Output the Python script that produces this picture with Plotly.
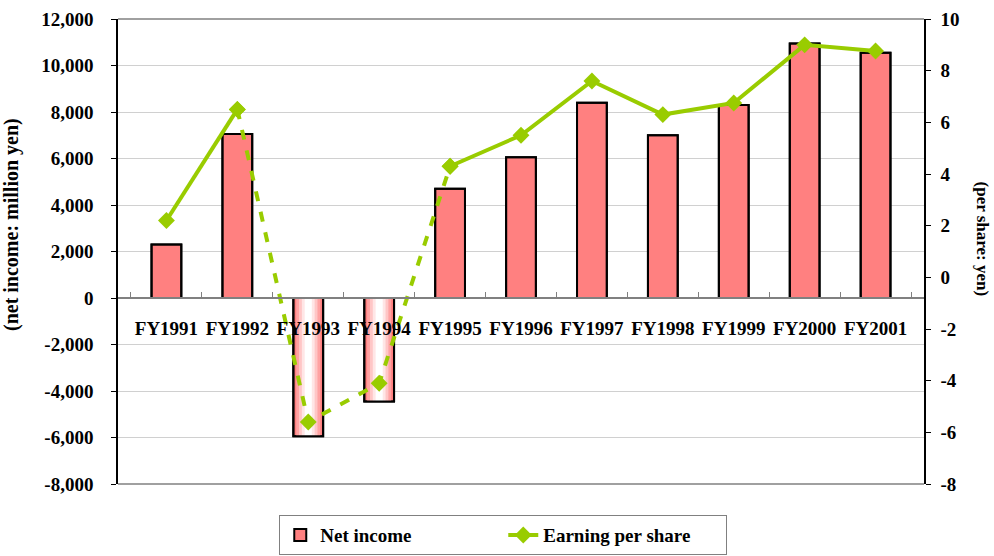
import plotly.graph_objects as go

# Fiscal years and reported figures
categories = ["FY1991", "FY1992", "FY1993", "FY1994", "FY1995", "FY1996",
              "FY1997", "FY1998", "FY1999", "FY2000", "FY2001"]
net_income = [2300, 7050, -5950, -4450, 4700, 6050, 8400, 7000, 8300, 10950, 10550]  # million yen
eps = [2.2, 6.5, -5.6, -4.1, 4.3, 5.5, 7.6, 6.3, 6.75, 9.0, 8.76]  # yen per share

# Axis ticks (labels use a plain hyphen for negatives)
income_ticks = [-8000, -6000, -4000, -2000, 0, 2000, 4000, 6000, 8000, 10000, 12000]
income_tick_labels = [f"{v:,}" for v in income_ticks]
eps_ticks = [-8, -6, -4, -2, 0, 2, 4, 6, 8, 10]
eps_tick_labels = [str(v) for v in eps_ticks]

# Years joined by a dashed segment of the EPS line (loss period)
dashed_years = ["FY1992", "FY1993", "FY1994", "FY1995"]

FONT = "Liberation Serif, Times New Roman, serif"
PINK = "#ff8080"
GREEN = "#99cc00"
BAR_W = 0.42

fig = go.Figure()

# Net income bars
fig.add_trace(go.Bar(
    x=categories, y=net_income, name="Net income", width=BAR_W,
    marker=dict(color=PINK, line=dict(color="black", width=2)),
    yaxis="y",
))

# Negative years get a pink-white-pink shaded fill built from nested bars
neg_vals = [v if v < 0 else None for v in net_income]
shades = [(0.34, "#ffa2a2"), (0.26, "#ffc6c6"), (0.18, "#ffe6e6"), (0.10, "#ffffff")]
for w, c in shades:
    fig.add_trace(go.Bar(
        x=categories, y=neg_vals, width=w, showlegend=False, hoverinfo="skip",
        marker=dict(color=c, line=dict(width=0)), yaxis="y",
    ))

# Outline on top of the shaded fills
fig.add_trace(go.Bar(
    x=categories, y=net_income, width=BAR_W, showlegend=False, hoverinfo="skip",
    marker=dict(color="rgba(0,0,0,0)", line=dict(color="black", width=2)),
    yaxis="y",
))

# EPS line: solid outside the loss period, dashed through it
solid_eps = [v if c not in dashed_years[1:-1] else None for c, v in zip(categories, eps)]
dash_x = [c for c in categories if c in dashed_years]
dash_y = [v for c, v in zip(categories, eps) if c in dashed_years]

fig.add_trace(go.Scatter(
    x=dash_x, y=dash_y, mode="lines+markers", showlegend=False, hoverinfo="skip",
    line=dict(color=GREEN, width=4, dash="10px,11px"),
    marker=dict(symbol="diamond", size=13, color=GREEN),
    yaxis="y2",
))
fig.add_trace(go.Scatter(
    x=categories, y=solid_eps, name="Earning per share", mode="lines+markers",
    connectgaps=False,
    line=dict(color=GREEN, width=4),
    marker=dict(symbol="diamond", size=13, color=GREEN),
    yaxis="y2",
))

tick_font = dict(family=FONT, size=19, color="black", weight="bold")

fig.update_layout(
    width=994, height=556,
    margin=dict(l=118, r=70, t=19, b=72, autoexpand=False),
    paper_bgcolor="white", plot_bgcolor="white",
    barmode="overlay",
    showlegend=True,
    font=dict(family=FONT, color="black"),
    xaxis=dict(
        type="category", anchor="free", position=0.4,
        showline=True, linecolor="#808080", linewidth=1.5,
        ticks="inside", tickson="boundaries", ticklen=5, tickcolor="#808080",
        showgrid=False, tickfont=tick_font, tickangle=0, ticklabelstandoff=13,
    ),
    yaxis=dict(
        range=[-8000, 12000], tickvals=income_ticks, ticktext=income_tick_labels,
        showline=True, linecolor="black", linewidth=1.5,
        ticks="outside", ticklen=5, tickcolor="black",
        showgrid=True, gridcolor="#d0d0d0", gridwidth=1,
        zeroline=False, tickfont=tick_font, ticklabelstandoff=14,
    ),
    yaxis2=dict(
        range=[-8, 10], tickvals=eps_ticks, ticktext=eps_tick_labels,
        overlaying="y", side="right",
        showline=True, linecolor="black", linewidth=1.5,
        ticks="outside", ticklen=5, tickcolor="black",
        showgrid=False, zeroline=False, tickfont=tick_font, ticklabelstandoff=6,
    ),
    legend=dict(
        orientation="h", x=0.478, xanchor="center", y=-0.11, yanchor="middle",
        bordercolor="#808080", borderwidth=1, bgcolor="white",
        font=dict(family=FONT, size=19, color="black", weight="bold"),
        traceorder="normal", entrywidth=178, entrywidthmode="pixels",
    ),
    shapes=[
        dict(type="line", xref="paper", yref="paper", x0=0, x1=1, y0=1, y1=1,
             line=dict(color="#808080", width=1.5)),
        dict(type="line", xref="paper", yref="paper", x0=0, x1=1, y0=0, y1=0,
             line=dict(color="#808080", width=1.5)),
    ],
    annotations=[
        dict(text="(net income: million yen)", xref="paper", yref="paper",
             x=-0.1315, y=0.557, xanchor="center", yanchor="middle",
             textangle=-90, showarrow=False,
             font=dict(family=FONT, size=20, color="black", weight="bold")),
        dict(text="(per share: yen)", xref="paper", yref="paper",
             x=1.073, y=0.526, xanchor="center", yanchor="middle",
             textangle=90, showarrow=False,
             font=dict(family=FONT, size=17, color="black", weight="bold")),
    ],
)

fig.write_html("out.html")
